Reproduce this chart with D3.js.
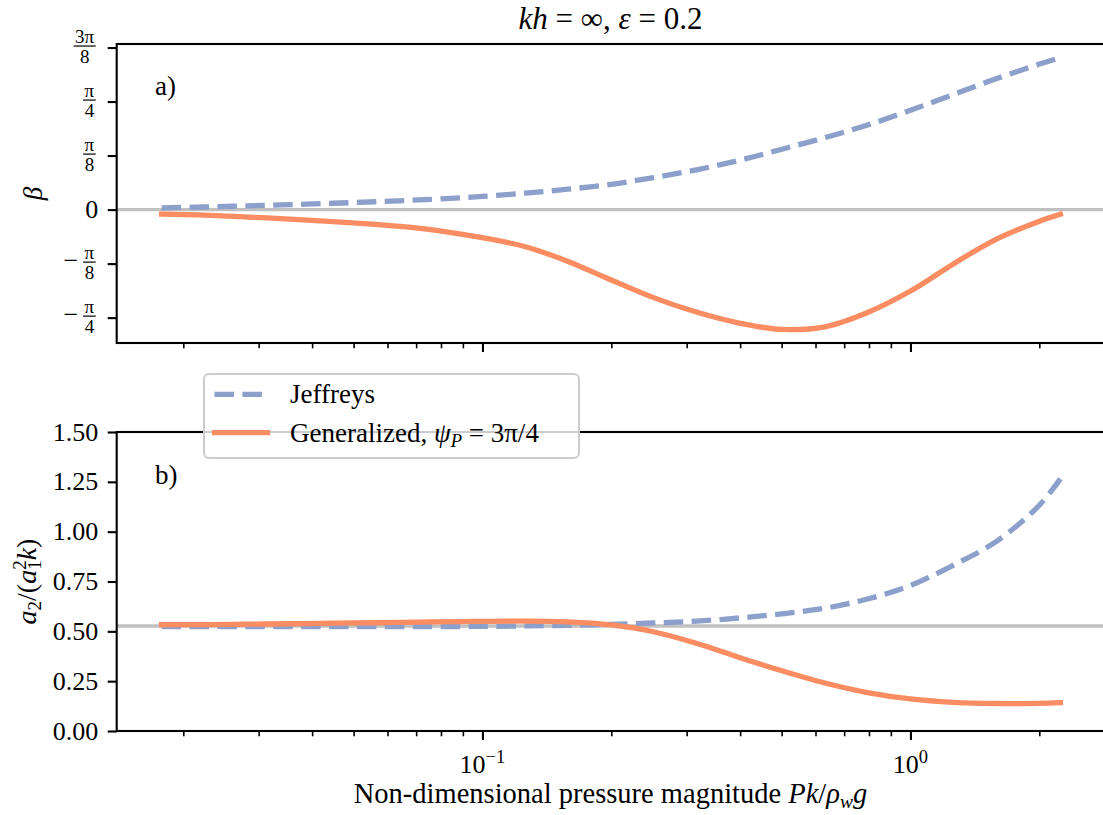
<!DOCTYPE html>
<html>
<head>
<meta charset="utf-8">
<script src="https://cdn.jsdelivr.net/npm/d3@7"></script>
<style>
  body { margin: 0; background: #fff; }
  svg { display: block; }
  text { font-family: "Liberation Serif", "DejaVu Serif", serif; }
</style>
</head>
<body>
<script>

// values (x on a log grid)
var pressure     = [0.0178, 0.0224, 0.0282, 0.0355, 0.0447, 0.0562, 0.0708, 0.0891, 0.1, 0.126, 0.158, 0.2,
                    0.251, 0.316, 0.398, 0.501, 0.631, 0.794, 1.0, 1.26, 1.585, 1.995, 2.24];
var betaJeffreys = [0.013, 0.019, 0.027, 0.036, 0.046, 0.057, 0.070, 0.086, 0.096, 0.120, 0.148, 0.184,
                    0.233, 0.289, 0.358, 0.439, 0.523, 0.615, 0.722, 0.837, 0.951, 1.056, 1.105];
var betaGeneral  = [-0.033, -0.040, -0.054, -0.069, -0.087, -0.108, -0.135, -0.178, -0.204, -0.270, -0.375, -0.512,
                    -0.640, -0.745, -0.825, -0.871, -0.852, -0.748, -0.592, -0.395, -0.216, -0.086, -0.034];
var a2Jeffreys   = [0.524, 0.524, 0.524, 0.524, 0.524, 0.524, 0.524, 0.524, 0.525, 0.527, 0.530, 0.535,
                    0.542, 0.551, 0.567, 0.588, 0.616, 0.662, 0.730, 0.832, 0.950, 1.130, 1.265];
var a2General    = [0.533, 0.534, 0.536, 0.538, 0.541, 0.543, 0.546, 0.549, 0.550, 0.551, 0.547, 0.532,
                    0.498, 0.440, 0.369, 0.302, 0.241, 0.193, 0.161, 0.144, 0.138, 0.139, 0.142];

var betaRef = 0;
var a2Ref = 0.527;

var betaTickValues = [-Math.PI / 4, -Math.PI / 8, 0, Math.PI / 8, Math.PI / 4, 3 * Math.PI / 8];
var betaTickLabels = ["−π/4", "−π/8", "0", "π/8", "π/4", "3π/8"];
var a2TickValues = [0, 0.25, 0.5, 0.75, 1.0, 1.25, 1.5];
var a2TickLabels = ["0.00", "0.25", "0.50", "0.75", "1.00", "1.25", "1.50"];
var xMajorTicks = [0.1, 1];
var xMajorLabels = [["10", "−1"], ["10", "0"]];

var seriesNames = ["Jeffreys", "Generalized"];
var blue = "#8da0cb", orange = "#fc8d62", grey = "#c0c0c0";

var fs = 26;          // tick label font size
var left = 116.7;

var svg = d3.select("body").append("svg")
    .attr("width", 1103)
    .attr("height", 815);

// shared log x scale, 5% padding in log space like matplotlib
var logLo = Math.log10(d3.min(pressure)), logHi = Math.log10(d3.max(pressure));
var pad = 0.05 * (logHi - logLo);
var x = d3.scaleLog()
    .domain([Math.pow(10, logLo - pad), Math.pow(10, logHi + pad)])
    .range([left, left + 428 * (logHi - logLo + 2 * pad)]);

var xMinor = [];
[-2, -1, 0].forEach(function(d) {
  for (var k = 2; k <= 9; k++) {
    var v = k * Math.pow(10, d);
    if (v > x.domain()[0] && v < x.domain()[1]) xMinor.push(v);
  }
});

// y scales
var ext = d3.extent(betaJeffreys.concat(betaGeneral));
var padY = 0.05 * (ext[1] - ext[0]);
var yTop = d3.scaleLinear().domain([ext[0] - padY, ext[1] + padY]).range([343, 44]);
var yBot = d3.scaleLinear().domain([0, 1.5]).range([731, 432]);

function drawPanel(y, top, bottom, series, ref, yTicks) {
  var g = svg.append("g");

  // reference line
  g.append("line")
    .attr("x1", x.range()[0]).attr("x2", x.range()[1])
    .attr("y1", y(ref)).attr("y2", y(ref))
    .attr("stroke", grey).attr("stroke-width", 3.4);

  var line = d3.line()
      .x(function(d, i) { return x(pressure[i]); })
      .y(function(d) { return y(d); })
      .curve(d3.curveCatmullRom.alpha(0.5));

  g.append("path").datum(series[0])
    .attr("d", line).attr("fill", "none")
    .attr("stroke", blue).attr("stroke-width", 5.3)
    .attr("stroke-dasharray", "19.5,8.4");

  g.append("path").datum(series[1])
    .attr("d", line).attr("fill", "none")
    .attr("stroke", orange).attr("stroke-width", 5.3)
    .attr("stroke-linecap", "square");

  // x ticks
  var xa = g.append("g").attr("transform", "translate(0," + bottom + ")");
  xa.append("g").call(d3.axisBottom(x).tickValues(xMinor).tickSize(5.3).tickFormat(""))
    .call(function(s) { s.select(".domain").remove(); s.selectAll("line").attr("stroke-width", 1.6); });
  xa.append("g").call(d3.axisBottom(x).tickValues(xMajorTicks).tickSize(9).tickFormat(""))
    .call(function(s) { s.select(".domain").remove(); s.selectAll("line").attr("stroke-width", 2.1); });

  // spines
  g.append("rect")
    .attr("x", x.range()[0]).attr("y", top)
    .attr("width", x.range()[1] - x.range()[0]).attr("height", bottom - top)
    .attr("fill", "none").attr("stroke", "#000").attr("stroke-width", 2.1);

  // y ticks
  g.append("g").attr("transform", "translate(" + left + ",0)")
    .call(d3.axisLeft(y).tickValues(yTicks).tickSize(9).tickFormat(""))
    .call(function(s) { s.select(".domain").remove(); s.selectAll("line").attr("stroke-width", 2.1); });

  return g;
}

var gTop = drawPanel(yTop, 44, 343, [betaJeffreys, betaGeneral], betaRef, betaTickValues);
var gBot = drawPanel(yBot, 432, 731, [a2Jeffreys, a2General], a2Ref, a2TickValues);

// top y tick labels (fractions of pi)
betaTickValues.forEach(function(v, i) {
  var lab = betaTickLabels[i];
  var yy = yTop(v);
  if (lab === "0") {
    gTop.append("text").attr("x", left - 18.5).attr("y", yy + 0.33 * fs)
      .attr("text-anchor", "end").style("font-size", fs + "px").text("0");
    return;
  }
  var neg = lab.charAt(0) === "−";
  var parts = (neg ? lab.slice(1) : lab).split("/");
  var fg = gTop.append("g");
  var num = fg.append("text").attr("text-anchor", "middle").style("font-size", "19px").text(parts[0]);
  var den = fg.append("text").attr("text-anchor", "middle").style("font-size", "19px").text(parts[1]);
  var w = Math.max(num.node().getComputedTextLength(), den.node().getComputedTextLength()) + 3;
  var right = left - 21;
  var cx = right - w / 2;
  var bar = yy - 1.5;
  num.attr("x", cx).attr("y", bar - 3.5);
  den.attr("x", cx).attr("y", bar + 16.5);
  fg.append("line").attr("x1", cx - w / 2).attr("x2", cx + w / 2)
    .attr("y1", bar).attr("y2", bar).attr("stroke", "#000").attr("stroke-width", 1.2);
  if (neg) {
    fg.append("text").attr("x", cx - w / 2 - 5).attr("y", bar + 0.27 * fs)
      .attr("text-anchor", "end").style("font-size", fs + "px").text("−");
  }
});

// bottom y tick labels
gBot.selectAll(".ylab").data(a2TickValues).enter().append("text")
  .attr("x", left - 18.5)
  .attr("y", function(d) { return yBot(d) + 0.33 * fs; })
  .attr("text-anchor", "end")
  .style("font-size", fs + "px")
  .text(function(d, i) { return a2TickLabels[i]; });

// x tick labels (bottom panel only)
xMajorTicks.forEach(function(v, i) {
  var t = gBot.append("text").attr("x", x(v)).attr("y", 773)
    .attr("text-anchor", "middle").style("font-size", fs + "px");
  t.append("tspan").text(xMajorLabels[i][0]);
  t.append("tspan").attr("dy", -10).style("font-size", "18.5px").text(xMajorLabels[i][1]);
});

// axis labels
svg.append("text")
  .attr("transform", "translate(42,193.5) rotate(-90)")
  .attr("text-anchor", "middle")
  .style("font-size", "27px").style("font-style", "italic")
  .text("β");

var yl = svg.append("text")
  .attr("transform", "translate(36,581.5) rotate(-90)")
  .attr("text-anchor", "middle")
  .style("font-size", "28px");
yl.append("tspan").style("font-style", "italic").text("a");
yl.append("tspan").attr("dy", 5).style("font-size", "19px").text("2");
yl.append("tspan").attr("dy", -5).text("/(");
yl.append("tspan").style("font-style", "italic").text("a");
yl.append("tspan").attr("dy", -10).style("font-size", "19px").text("2");
yl.append("tspan").attr("dx", -9.5).attr("dy", 15).style("font-size", "19px").text("1");
yl.append("tspan").attr("dy", -5).style("font-style", "italic").text("k");
yl.append("tspan").text(")");

var xl = svg.append("text")
  .attr("x", 610.5).attr("y", 803)
  .attr("text-anchor", "middle")
  .style("font-size", "28.5px");
xl.append("tspan").text("Non-dimensional pressure magnitude ");
xl.append("tspan").style("font-style", "italic").text("Pk");
xl.append("tspan").text("/");
xl.append("tspan").style("font-style", "italic").text("ρ");
xl.append("tspan").attr("dy", 5).style("font-size", "19.5px").style("font-style", "italic").text("w");
xl.append("tspan").attr("dy", -5).style("font-style", "italic").text("g");

// title
var tt = svg.append("text")
  .attr("x", 610.5).attr("y", 29)
  .attr("text-anchor", "middle")
  .style("font-size", "31px");
tt.append("tspan").style("font-style", "italic").text("kh");
tt.append("tspan").text(" = ∞, ");
tt.append("tspan").style("font-style", "italic").text("ε");
tt.append("tspan").text(" = 0.2");

// panel labels
svg.append("text").attr("x", 155).attr("y", 95).style("font-size", "27px").text("a)");
svg.append("text").attr("x", 155).attr("y", 483.5).style("font-size", "27px").text("b)");

// legend
var lg = svg.append("g");
lg.append("rect")
  .attr("x", 204).attr("y", 374).attr("width", 375).attr("height", 84)
  .attr("rx", 5).attr("fill", "#fff").attr("fill-opacity", 0.8)
  .attr("stroke", "#cccccc").attr("stroke-width", 2);
lg.append("line").attr("x1", 214.5).attr("x2", 267.5).attr("y1", 394.3).attr("y2", 394.3)
  .attr("stroke", blue).attr("stroke-width", 5.3).attr("stroke-dasharray", "19.5,8.4");
lg.append("line").attr("x1", 214.5).attr("x2", 267.5).attr("y1", 432.7).attr("y2", 432.7)
  .attr("stroke", orange).attr("stroke-width", 5.3).attr("stroke-linecap", "square");
lg.append("text").attr("x", 290).attr("y", 403.3).style("font-size", "27px").text(seriesNames[0]);
var l2 = lg.append("text").attr("x", 290).attr("y", 442).style("font-size", "27px");
l2.append("tspan").text(seriesNames[1] + ", ");
l2.append("tspan").style("font-style", "italic").text("ψ");
l2.append("tspan").attr("dy", 5).style("font-size", "18.5px").style("font-style", "italic").text("P");
l2.append("tspan").attr("dy", -5).text(" = 3π/4 ");

</script>
</body>
</html>
